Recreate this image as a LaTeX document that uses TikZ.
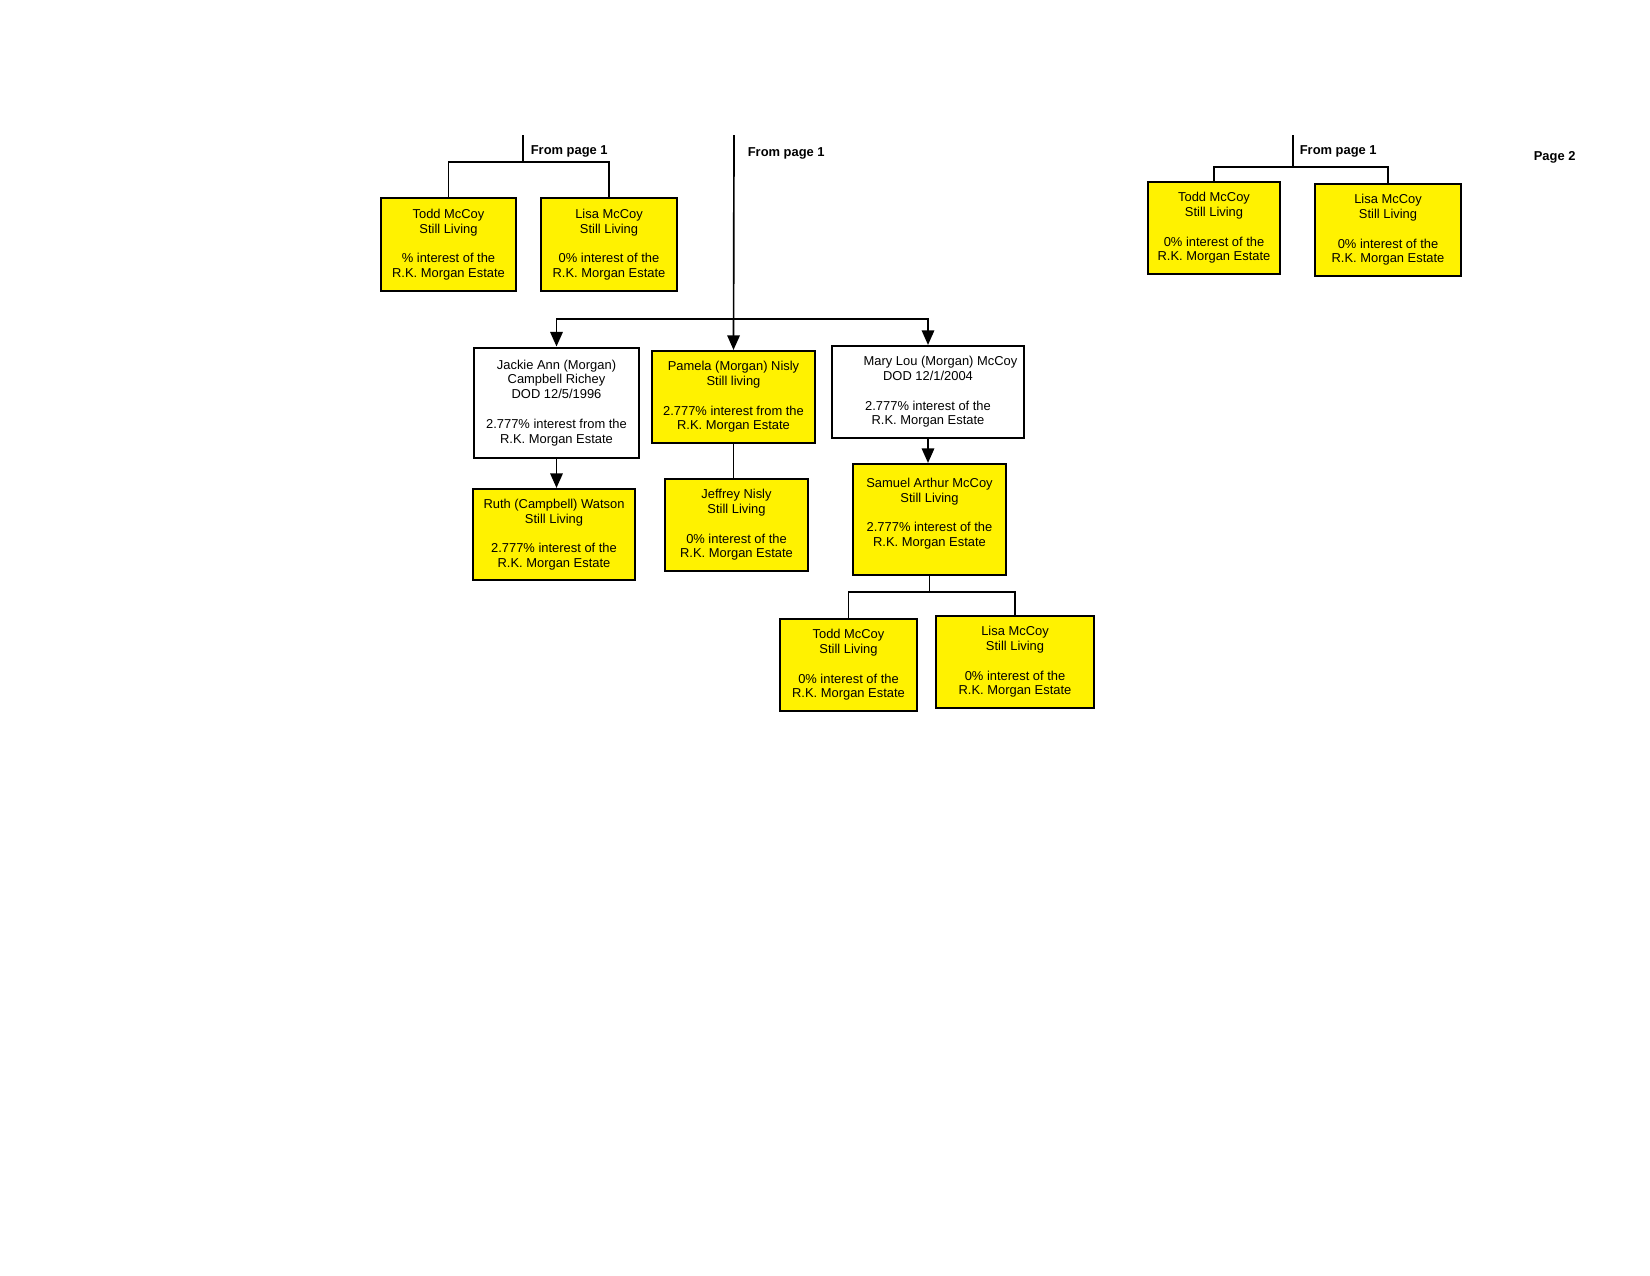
\documentclass[tikz,border=0pt]{standalone}
\usepackage{fontspec}
\setmainfont{Liberation Sans}
\usetikzlibrary{arrows.meta, positioning}

\begin{document}
\begin{tikzpicture}[x=0.48pt, y=-0.48pt, thick,
    every node/.style={font=\fontsize{6.2}{7.1}\selectfont, align=center},
    heir/.style={draw, line width=1pt, inner sep=0pt},
    living/.style={heir, fill=yellow},
    fromtag/.style={font=\fontsize{6.2}{7.1}\selectfont\bfseries, anchor=west, inner sep=0pt},
    >={Triangle[length=7pt,width=6pt]}]

    \useasboundingbox (0,0) rectangle (1650,1275);

    % left branch from page 1
    \node[living, minimum width=64.8pt, minimum height=44.6pt] (todda) at (448.5,244.5)
        {Todd McCoy\\Still Living\\[7.1pt]\% interest of the\\R.K. Morgan Estate};
    \node[living, minimum width=65.3pt, minimum height=44.6pt] (lisaa) at (609,244.5)
        {Lisa McCoy\\Still Living\\[7.1pt]0\% interest of the\\R.K. Morgan Estate};
    \coordinate (srca) at (523,135);
    \coordinate (junca) at (523,162);
    \node[fromtag] (taga) at (530,151) {From page 1};
    \path[draw] (srca) -- (junca)
                (todda.north) |- (junca) -| (lisaa.north);

    % middle branch
    \node[heir, minimum width=79.2pt, minimum height=53pt] (jackie) at (556.5,402.75)
        {Jackie Ann (Morgan)\\Campbell Richey\\DOD 12/5/1996\\[7.1pt]2.777\% interest from the\\R.K. Morgan Estate};
    \node[living, minimum width=78.2pt, minimum height=44.2pt] (pamela) at (733.5,397)
        {Pamela (Morgan) Nisly\\Still living\\[7.1pt]2.777\% interest from the\\R.K. Morgan Estate};
    \node[heir, minimum width=92.2pt, minimum height=44.2pt] (marylou) at (928,392)
        {\hspace{12pt}Mary Lou (Morgan) McCoy\\DOD 12/1/2004\\[7.1pt]2.777\% interest of the\\R.K. Morgan Estate};
    \node[living, minimum width=77.8pt, minimum height=43.7pt] (ruth) at (554,534.5)
        {Ruth (Campbell) Watson\\Still Living\\[7.1pt]2.777\% interest of the\\R.K. Morgan Estate};
    \node[living, minimum width=68.6pt, minimum height=44.2pt] (jeffrey) at (736.5,525)
        {Jeffrey Nisly\\Still Living\\[7.1pt]0\% interest of the\\R.K. Morgan Estate};
    \node[living, minimum width=73.4pt, minimum height=53.3pt] (samuel) at (929.5,519.5)
        {Samuel Arthur McCoy\\Still Living\\[7.1pt]2.777\% interest of the\\R.K. Morgan Estate\\ \mbox{}};
    \node[living, minimum width=65.8pt, minimum height=44.2pt] (toddb) at (848.5,665)
        {Todd McCoy\\Still Living\\[7.1pt]0\% interest of the\\R.K. Morgan Estate};
    \node[living, minimum width=75.8pt, minimum height=44.2pt] (lisab) at (1015,662)
        {Lisa McCoy\\Still Living\\[7.1pt]0\% interest of the\\R.K. Morgan Estate};

    \coordinate (srcb) at (734,135);
    \coordinate (juncb) at (734,319);
    \coordinate (juncc) at (929.5,592);
    \node[fromtag] (tagb) at (747,153) {From page 1};
    \path[draw, ->] (srcb) -- (pamela.north);
    \path[draw, ->] (juncb) -| (jackie.north);
    \path[draw, ->] (juncb) -| (marylou.north);
    \path[draw, ->] (jackie.south) -- (jackie.south |- ruth.north);
    \path[draw, ->] (marylou.south) -- (marylou.south |- samuel.north);
    \path[draw] (pamela.south) -- (pamela.south |- jeffrey.north)
                (samuel.south) -- (juncc)
                (toddb.north) |- (juncc) -| (lisab.north);

    % right branch from page 1
    \node[living, minimum width=63.4pt, minimum height=44.2pt] (toddc) at (1214,228)
        {Todd McCoy\\Still Living\\[7.1pt]0\% interest of the\\R.K. Morgan Estate};
    \node[living, minimum width=70.1pt, minimum height=44.2pt] (lisac) at (1388,230)
        {Lisa McCoy\\Still Living\\[7.1pt]0\% interest of the\\R.K. Morgan Estate};
    \coordinate (srcc) at (1293,135);
    \coordinate (juncd) at (1293,167);
    \node[fromtag] (tagc) at (1299,151) {From page 1};
    \path[draw] (srcc) -- (juncd)
                (toddc.north) |- (juncd) -| (lisac.north);

    \node[fromtag] (pagetag) at (1533,157) {Page 2};

\end{tikzpicture}
\end{document}
